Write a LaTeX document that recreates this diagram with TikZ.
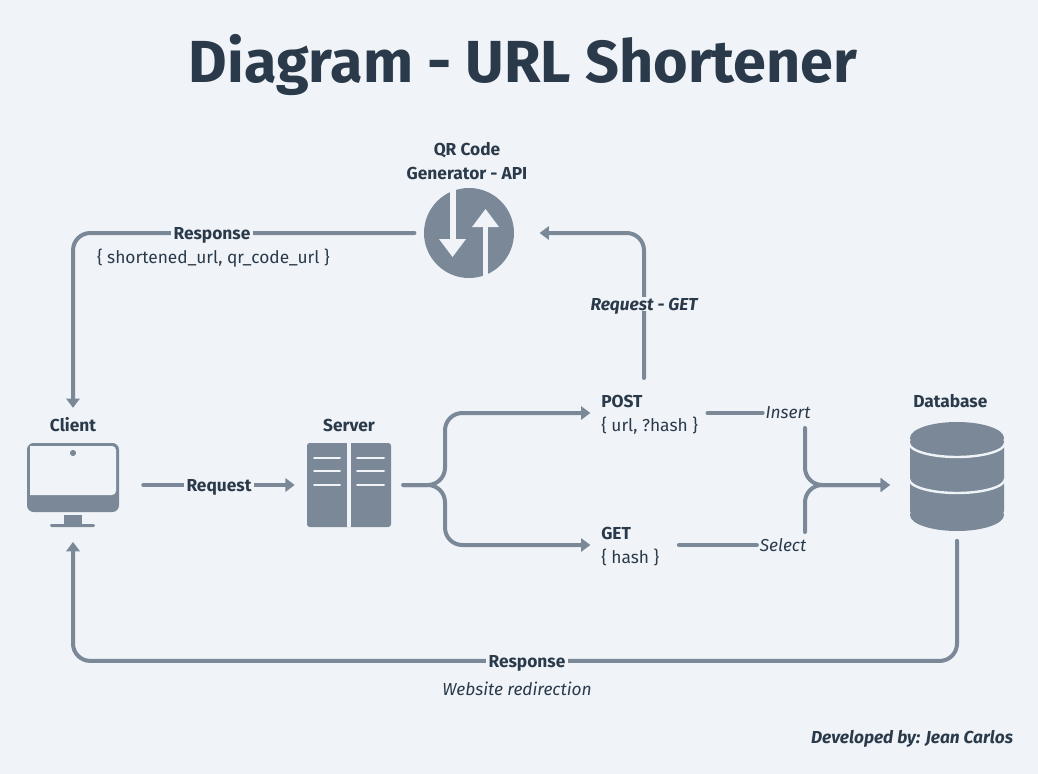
\documentclass[tikz,border=0pt]{standalone}
\usepackage{fontspec}
\setmainfont{Fira Sans}
\usetikzlibrary{arrows.meta, positioning, shapes.geometric}
\definecolor{bgc}{HTML}{F0F4F8}
\definecolor{lin}{HTML}{7A8898}
\definecolor{txt}{HTML}{2A3A4A}
\tikzset{
  conn/.style   = {-{Triangle[length=7pt,width=10pt]}, line width=3pt, color=lin, rounded corners=13pt, line cap=round},
  plain/.style  = {line width=3pt, color=lin, rounded corners=13pt, line cap=round},
  ttl/.style    = {font=\fontsize{44.5}{48}\selectfont\bfseries, text=txt, inner sep=0pt},
  lbl/.style    = {font=\fontsize{13}{18}\selectfont\bfseries, text=txt, inner sep=0pt, align=center},
  sublbl/.style = {font=\fontsize{13}{18}\selectfont, text=txt, inner sep=0pt},
  itl/.style    = {font=\fontsize{13}{18}\selectfont\itshape, text=txt, inner sep=0pt},
  gap/.style    = {fill=bgc, inner xsep=2pt, inner ysep=1pt, text depth=0pt},
  ops/.style    = {font=\fontsize{13}{18}\selectfont, text=txt, inner sep=0pt, align=left, text depth=0pt},
  icon/.style   = {fill=lin, draw=none},
  cut/.style    = {fill=bgc, draw=none},
  slot/.style   = {draw=bgc, line width=1.5pt, line cap=round},
}
\begin{document}
\begin{tikzpicture}[x=0.75pt, y=-0.75pt]

  \fill[bgc] (0,0) rectangle (1038,774);
  \useasboundingbox (0,0) rectangle (1038,774);

  \node[ttl] (title) at (523,65) {Diagram - URL Shortener};

  % client
  \node[minimum width=69pt, minimum height=63pt, inner sep=0pt] (client) at (73,485) {};
  \node[lbl, above=8pt of client] (clientlbl) {Client};
  \fill[icon, rounded corners=5pt] (27,443) rectangle (119,512);
  \fill[cut] (30,446) [rounded corners=3pt] -- (116,446) -- (116,495) [sharp corners] -- (30,495) -- cycle;
  \fill[icon] (73,453) circle (2.3pt);
  \fill[icon] (64,515) rectangle (82,524);
  \fill[icon, rounded corners=1pt] (50,524) rectangle (95,527);

  % server
  \node[icon, rounded corners=2pt, minimum width=63pt, minimum height=63pt, inner sep=0pt] (server) at (349,485) {};
  \node[lbl, above=8pt of server] (serverlbl) {Server};
  \fill[cut] (347,443) rectangle (350.5,527);
  \foreach \y in {458,471,485} {
    \draw[slot] (314,\y) -- (340,\y);
    \draw[slot] (357,\y) -- (384,\y);
  }

  % qr api
  \node[icon, circle, minimum size=67.5pt, inner sep=0pt] (qr) at (469,233) {};
  \node[lbl, above=5.5pt of qr, xshift=-1.5pt] (qrlbl) {QR Code\\Generator - API};
  \fill[cut] (450,180) rectangle (455.5,240);
  \fill[cut] (439,239) -- (466,239) -- (452.5,257) -- cycle;
  \fill[cut] (482.5,227) rectangle (488,285);
  \fill[cut] (472,227) -- (499,227) -- (485.5,209) -- cycle;

  % database
  \node[minimum width=70.5pt, minimum height=82pt, inner sep=0pt] (db) at (957,476.5) {};
  \node[lbl, above=10pt of db, xshift=-5pt] (dblbl) {Database};
  \fill[icon, rounded corners=3pt] (910,438) rectangle (1004,515);
  \fill[icon] (957,438) ellipse [x radius=47, y radius=16];
  \fill[icon] (957,515) ellipse [x radius=47, y radius=16];
  \draw[bgc, line width=1.8pt] (909,443) arc [start angle=180, end angle=0, x radius=48, y radius=14];
  \draw[bgc, line width=1.8pt] (909,479) arc [start angle=180, end angle=0, x radius=48, y radius=14];

  % methods
  \node[ops, anchor=west] (post) at (601,413) {\textbf{POST}\\\{ url, ?hash \}};
  \node[ops, anchor=west] (get)  at (601,545) {\textbf{GET}\\\{ hash \}};
  \node[itl] (insert) at (788,413) {Insert};
  \node[itl] (select) at (783,545) {Select};

  \coordinate (fork)    at (445,485);
  \coordinate (postup)  at (644,378);
  \coordinate (insdrop) at (805,428);
  \coordinate (selrise) at (805,532);
  \coordinate (dbin)    at (890,485);

  \draw[conn, shorten <=18pt, shorten >=9pt] (client) -- (server);
  \node[lbl, gap] (request) at (219,485) {Request};
  \draw[conn, shorten <=9pt, shorten >=8pt] (server.east) -- (fork) |- (post.west);
  \draw[conn, shorten <=9pt, shorten >=8pt] (server.east) -- (fork) |- (get.west);

  \draw[conn, shorten <=7pt, shorten >=7pt] (qr.west) -| (clientlbl.north);
  \node[lbl, gap] (resptop) at (212,233) {Response};
  \node[sublbl, below=6pt of resptop, xshift=1pt] (resptopsub) {\{ shortened\_url, qr\_code\_url \}};

  \draw[conn, shorten >=19pt] (postup) |- (qr.east);
  \node[lbl, gap, font=\fontsize{13}{18}\selectfont\bfseries\itshape] (reqget) at (644,304) {Request - GET};

  \draw[plain, shorten <=7pt, shorten >=2pt] (post.east) -- (insert.west);
  \draw[plain, shorten <=14.5pt, shorten >=2pt] (get.east) -- (select.west);
  \draw[conn] (insdrop) |- (dbin);
  \draw[conn] (selrise) |- (dbin);

  % back to client
  \draw[conn, shorten <=7pt, shorten >=11pt] (db.south) -- ++(0,129.5) -| (client.south);
  \node[lbl, gap] (respbot) at (527,661) {Response};
  \node[itl, below=10pt of respbot, xshift=-7.5pt] (redirect) {Website redirection};

  \node[lbl, font=\fontsize{13}{18}\selectfont\bfseries\itshape] (credit) at (912,739) {Developed by: Jean Carlos};

\end{tikzpicture}
\end{document}
